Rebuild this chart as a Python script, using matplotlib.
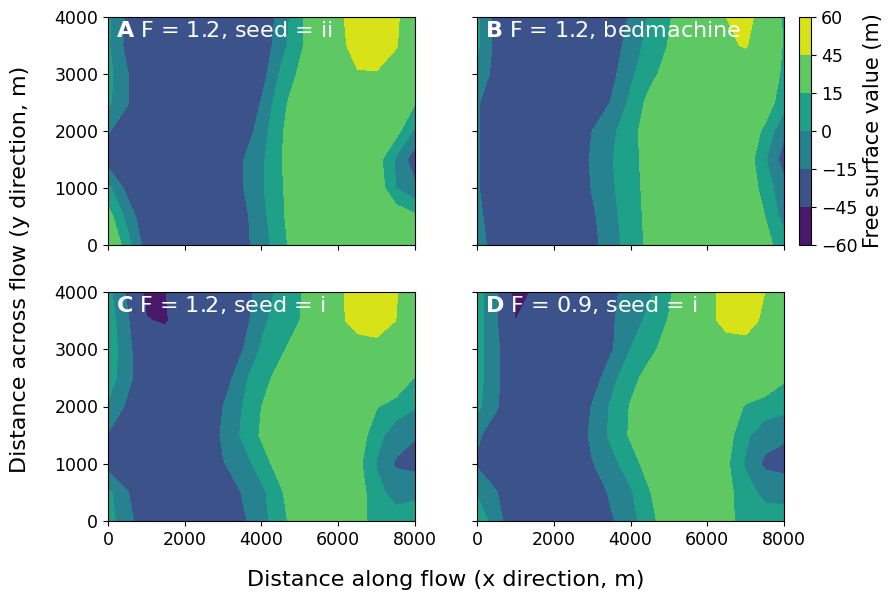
import numpy as np
import matplotlib.pyplot as plt

# grid of the model domain (m)
x_m = [0, 500, 1000, 1500, 2000, 2500, 3000, 3500, 4000,
       4500, 5000, 5500, 6000, 6500, 7000, 7500, 8000]
y_m = [0, 500, 1000, 1500, 2000, 2500, 3000, 3500, 4000]

levels = [-60, -45, -15, 0, 15, 45, 60]
level_ticks = [-60, -45, -15, 0, 15, 45, 60]
x_ticks = [0, 2000, 4000, 6000, 8000]
y_ticks = [0, 1000, 2000, 3000, 4000]

panel_tags = ['A', 'B', 'C', 'D']
panel_titles = ['F = 1.2, seed = ii', 'F = 1.2, bedmachine',
                'F = 1.2, seed = i', 'F = 0.9, seed = i']

# free surface (m), one row per y, from y = 0 up to y = 4000
surf_a = [
    [35, 6, -22, -32, -34, -34, -32, -20, -8, 10, 24, 32, 35, 36, 36, 33, 30],
    [22, -5, -28, -33, -34, -34, -32, -20, -5, 12, 26, 33, 35, 35, 33, 26, 18],
    [4, -20, -32, -34, -35, -35, -33, -16, -2, 13, 26, 33, 35, 34, 26, 0, -12],
    [-22, -28, -33, -34, -35, -35, -33, -16, -3, 14, 27, 33, 34, 32, 22, -2, -24],
    [-14, -22, -30, -33, -34, -34, -33, -27, -7, 13, 26, 32, 34, 33, 30, 21, -3],
    [3, -14, -28, -32, -33, -33, -32, -28, -14, 10, 24, 32, 35, 35, 33, 26, 16],
    [5, -14, -28, -32, -33, -33, -32, -30, -22, 2, 18, 30, 38, 44, 44, 38, 30],
    [2, -20, -30, -32, -33, -33, -32, -30, -26, -6, 12, 28, 41, 50, 53, 46, 35],
    [3, -18, -30, -32, -33, -33, -32, -30, -26, -10, 12, 28, 42, 52, 55, 47, 36],
]

surf_b = [
    [-6, -24, -32, -33, -33, -32, -20, -6, 6, 19, 27, 32, 34, 34, 31, 20, 8],
    [-10, -26, -33, -34, -34, -32, -18, -4, 7, 20, 28, 33, 35, 34, 30, 15, -6],
    [-13, -30, -34, -35, -35, -31, -14, -2, 8, 21, 28, 33, 34, 33, 28, 8, -10],
    [-13, -31, -35, -36, -36, -30, -12, -1, 9, 22, 29, 33, 34, 32, 25, 2, -22],
    [-13, -30, -34, -35, -35, -33, -15, -4, 10, 22, 29, 33, 34, 32, 26, 12, -13],
    [-13, -28, -33, -34, -35, -34, -28, -14, 3, 20, 28, 32, 34, 34, 32, 24, 6],
    [-2, -22, -31, -33, -34, -33, -30, -20, -3, 10, 22, 30, 34, 36, 35, 29, 11],
    [3, -20, -30, -32, -33, -33, -31, -24, -8, 5, 16, 28, 37, 43, 46, 36, 13],
    [4, -22, -30, -32, -33, -33, -32, -27, -13, 2, 13, 28, 38, 45, 50, 38, 12],
]

surf_c = [
    [6, -10, -25, -33, -34, -34, -31, -18, -6, 10, 24, 32, 32, 22, 8, 6, 7],
    [4, -14, -30, -34, -35, -34, -29, -14, -4, 13, 28, 33, 33, 24, 4, -5, -3],
    [-22, -30, -34, -35, -35, -33, -16, -8, 8, 22, 30, 33, 32, 20, -1, -17, -20],
    [-16, -28, -34, -35, -35, -30, -12, 2, 17, 27, 32, 34, 33, 25, 5, -8, -14],
    [-2, -18, -30, -35, -35, -30, -15, 0, 15, 25, 31, 34, 34, 30, 16, 8, 1],
    [8, -10, -28, -34, -35, -33, -25, -4, 9, 21, 29, 33, 35, 36, 35, 30, 14],
    [10, -10, -30, -34, -34, -33, -31, -16, 2, 12, 24, 32, 37, 39, 40, 37, 30],
    [8, -12, -44, -47, -33, -33, -32, -22, -4, 8, 15, 30, 42, 50, 52, 45, 35],
    [5, -18, -50, -45.5, -34, -33, -32, -24, -8, 4, 13, 32, 42, 52, 55, 46, 36],
]

surf_d = [
    [10, -8, -28, -33, -34, -34, -31, -17, -6, 10, 24, 32, 31, 20, 8, 7, 8],
    [-1, -14, -30, -34, -35, -34, -27, -12, -2, 14, 28, 33, 32, 20, 6, -4, -6],
    [-17, -30, -34, -35, -35, -33, -16, -5, 8, 22, 30, 33, 31, 18, -2, -18, -20],
    [-12, -25, -33, -35, -35, -30, -11, 3, 17, 27, 32, 34, 33, 22, 3, -9, -13],
    [4, -13, -30, -35, -35, -31, -14, 2, 16, 25, 31, 34, 34, 28, 13, 8, 5],
    [6, -12, -28, -34, -35, -33, -24, -5, 10, 21, 29, 33, 35, 36, 34, 28, 17],
    [6, -12, -29, -34, -34, -33, -31, -17, 0, 11, 22, 31, 38, 39, 39, 36, 30],
    [6, -13, -45, -39, -34, -33, -31, -17, -7, 4, 16, 30, 41, 49, 51, 42, 34],
    [6, -11, -54, -42, -34, -33, -32, -18, -10, -2, 12, 30, 40, 50, 53, 45, 36],
]

surfaces = [surf_a, surf_b, surf_c, surf_d]

W, H = 895, 599
fig = plt.figure(figsize=(W / 100, H / 100), dpi=100)


def add_px_axes(left, top, right, bottom):
    return fig.add_axes([left / W, 1 - bottom / H, (right - left) / W, (bottom - top) / H])


boxes = [(108, 17, 415, 245), (477, 17, 784, 245),
         (108, 292, 415, 521), (477, 292, 784, 521)]

X, Y = np.meshgrid(x_m, y_m)
for i, (box, zz) in enumerate(zip(boxes, surfaces)):
    ax = add_px_axes(*box)
    cs = ax.contourf(X, Y, np.array(zz, dtype=float), levels=levels, cmap='viridis')
    ax.set_xlim(0, 8000)
    ax.set_ylim(0, 4000)
    ax.set_xticks(x_ticks)
    ax.set_yticks(y_ticks)
    ax.tick_params(labelsize=12.5)
    if i % 2 == 1:
        ax.set_yticklabels([])
    if i < 2:
        ax.set_xticklabels([])
    ax.text(0.026, 0.99, r'$\mathbf{%s}$ %s' % (panel_tags[i], panel_titles[i]),
            transform=ax.transAxes, color='white', fontsize=16,
            ha='left', va='top')

cax = add_px_axes(799, 17, 811, 245)
cbar = fig.colorbar(cs, cax=cax, ticks=level_ticks)
cbar.ax.tick_params(labelsize=12.5)
cbar.set_label('Free surface value (m)', fontsize=15)

fig.text(446 / W, 1 - 580 / H, 'Distance along flow (x direction, m)',
         fontsize=16, ha='center', va='center')
fig.text(20 / W, 1 - 269 / H, 'Distance across flow (y direction, m)',
         fontsize=16, ha='center', va='center', rotation=90)

fig.savefig('out.png', dpi=100)
